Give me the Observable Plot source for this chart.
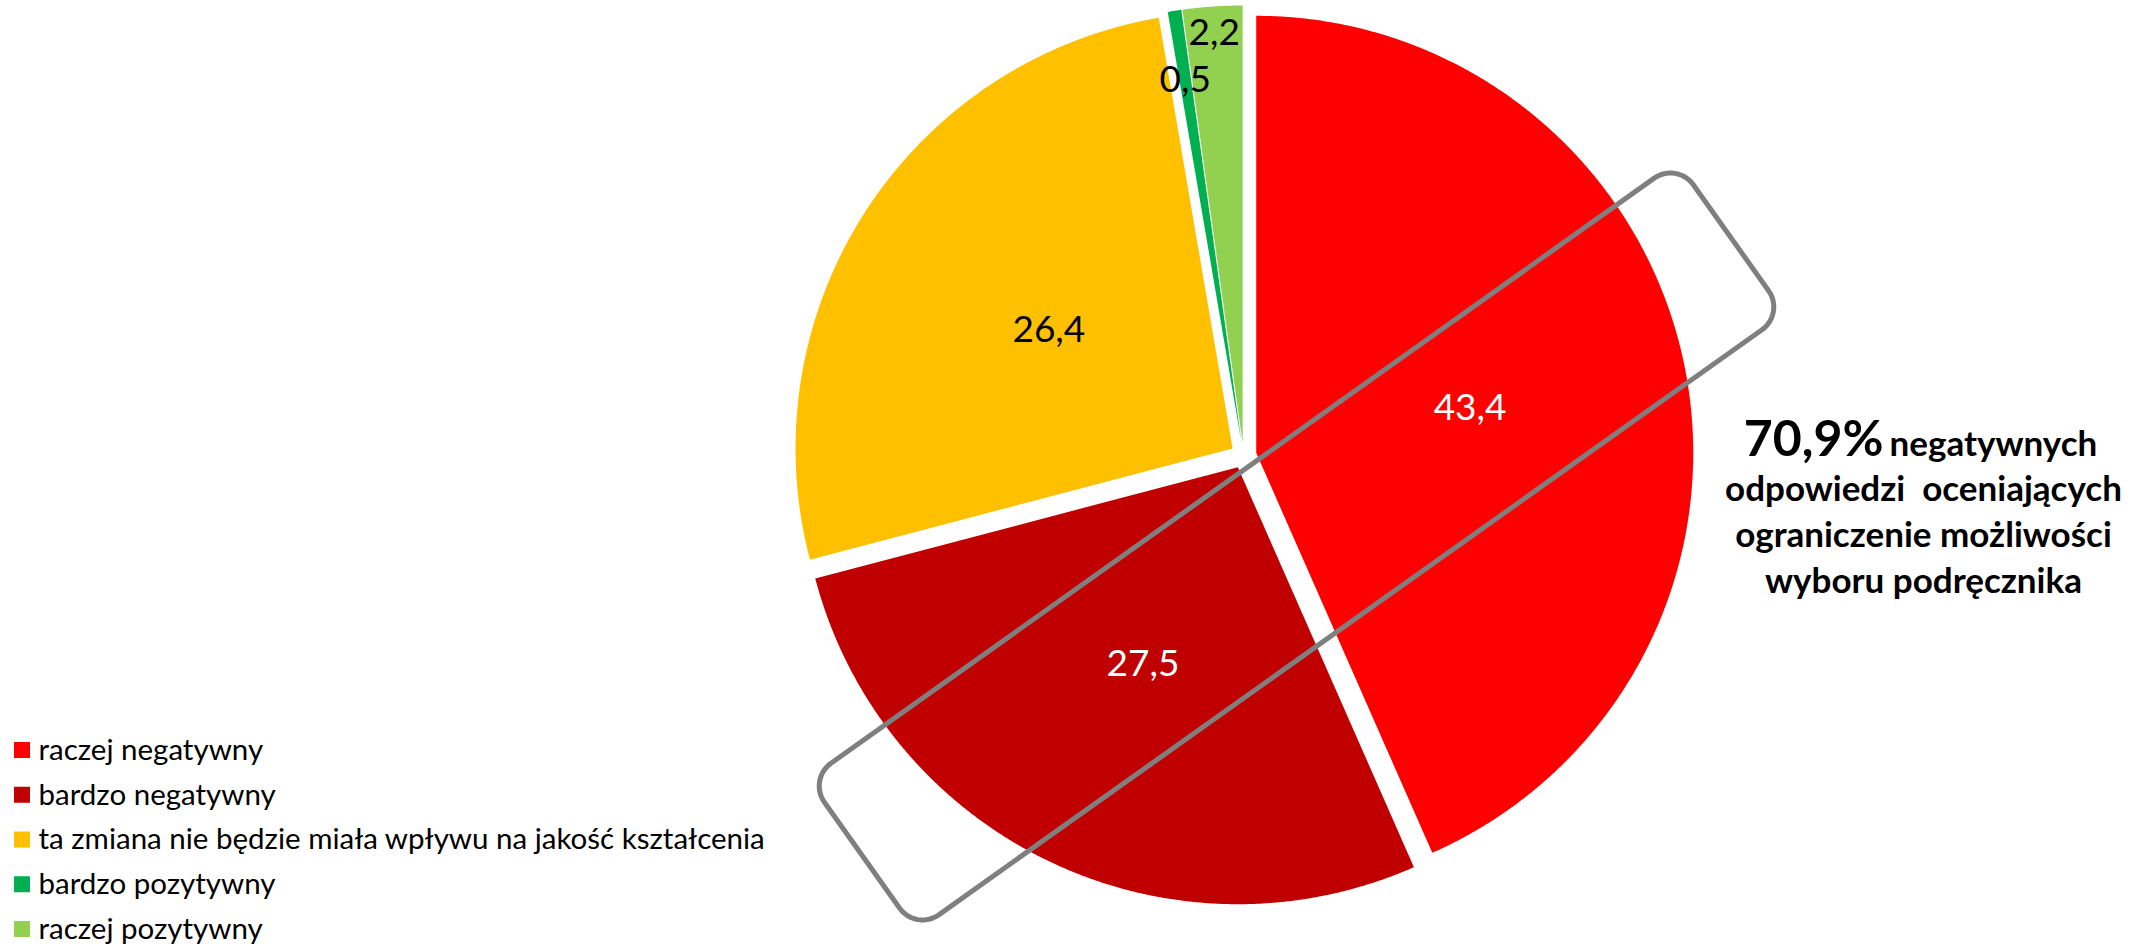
<!DOCTYPE html>
<html>
<head>
<meta charset="utf-8">
<script src="https://cdn.jsdelivr.net/npm/d3@7"></script>
<script src="https://cdn.jsdelivr.net/npm/@observablehq/plot@0.6"></script>
<style>
  html, body { margin: 0; padding: 0; background: #fff; }
  svg { display: block; }
</style>
</head>
<body>
<div id="chart"></div>
<script>
// ---- data ----
const categories = [
  "raczej negatywny",
  "bardzo negatywny",
  "ta zmiana nie będzie miała wpływu na jakość kształcenia",
  "bardzo pozytywny",
  "raczej pozytywny"
];
const values = [43.4, 27.5, 26.4, 0.5, 2.2];
const colors = ["#FF0000", "#C00000", "#FFC000", "#00B050", "#92D050"];
const annotationValue = "70,9%";
const annotationLines = ["negatywnych", "odpowiedzi  oceniających", "ograniczenie możliwości", "wyboru podręcznika"];

// ---- layout ----
const W = 2143, H = 946;
const cx = 1243, cy = 455, R = 437, explode = 13;
const fmt = v => v.toFixed(1).replace(".", ",");

const arcs = d3.pie().sort(null).value(d => d)(values);
const slicePts = [];
const labelPts = [];
arcs.forEach((a, i) => {
  const cat = categories[i];
  const mid = (a.startAngle + a.endAngle) / 2;
  const ox = cx + explode * Math.sin(mid), oy = cy - explode * Math.cos(mid);
  slicePts.push({cat, x: ox, y: oy});
  const n = Math.max(4, Math.ceil((a.endAngle - a.startAngle) / 0.004));
  for (let k = 0; k <= n; k++) {
    const t = a.startAngle + (a.endAngle - a.startAngle) * k / n;
    slicePts.push({cat, x: ox + R * Math.sin(t), y: oy - R * Math.cos(t)});
  }
  // big slices: label mid-radius; thin slices: label near the rim (best fit)
  const rf = values[i] >= 5 ? 0.5 : (values[i] < 1 ? 0.84 : 0.94);
  labelPts.push({
    text: fmt(values[i]),
    x: ox + rf * R * Math.sin(mid),
    y: oy - rf * R * Math.cos(mid),
    light: i < 2
  });
});

// rounded rectangle annotation frame
const rr = {x: 1296, y: 546, len: 1066, wid: 186, r: 28, angle: -35.4 * Math.PI / 180};
const rrPts = [];
{
  const hl = rr.len / 2 - rr.r, hw = rr.wid / 2 - rr.r;
  const corners = [[hl, -hw, -90], [hl, hw, 0], [-hl, hw, 90], [-hl, -hw, 180]];
  const ux = Math.cos(rr.angle), uy = Math.sin(rr.angle);
  const vx = -Math.sin(rr.angle), vy = Math.cos(rr.angle);
  for (const [sx, sy, a0] of corners) {
    for (let k = 0; k <= 12; k++) {
      const t = (a0 + 90 * k / 12) * Math.PI / 180;
      const s = sx + rr.r * Math.cos(t), u = sy + rr.r * Math.sin(t);
      rrPts.push({x: rr.x + s * ux + u * vx, y: rr.y + s * uy + u * vy});
    }
  }
}

// legend rows
const legendRows = categories.map((cat, i) => ({cat, y: 750 + i * 44.75}));

const chart = Plot.plot({
  width: W,
  height: H,
  margin: 0,
  x: {domain: [0, W], range: [0, W], axis: null},
  y: {domain: [0, H], range: [0, H], axis: null},
  color: {domain: categories, range: colors},
  style: {fontFamily: "Lato, 'Open Sans', sans-serif", background: "white", color: "black"},
  marks: [
    Plot.line(slicePts, {x: "x", y: "y", z: "cat", fill: "cat", stroke: "none", curve: "linear-closed"}),
    Plot.text(labelPts.filter(d => d.light), {x: "x", y: "y", text: "text", fill: "white", fontSize: 37, lineAnchor: "middle"}),
    Plot.text(labelPts.filter(d => !d.light), {x: "x", y: "y", text: "text", fill: "black", fontSize: 37, lineAnchor: "middle"}),
    Plot.line(rrPts, {x: "x", y: "y", stroke: "#7F7F7F", strokeWidth: 5, curve: "linear-closed"}),
    // annotation
    Plot.text([annotationValue], {x: 1883, y: 455, text: d => d, textAnchor: "end", lineAnchor: "bottom", fontSize: 50, fontWeight: "bold", fill: "black"}),
    Plot.text([annotationLines[0]], {x: 1889, y: 455, text: d => d, textAnchor: "start", lineAnchor: "bottom", fontSize: 35, fontWeight: "bold", fill: "black"}),
    Plot.text(annotationLines.slice(1).map((t, i) => ({t, y: 500 + i * 46})), {x: 1923, y: "y", text: "t", textAnchor: "middle", lineAnchor: "bottom", fontSize: 35, fontWeight: "bold", fill: "black"}),
    // legend
    Plot.rect(legendRows, {x1: 14, x2: 30, y1: d => d.y - 8, y2: d => d.y + 8, fill: "cat"}),
    Plot.text(legendRows, {x: 38, y: "y", text: "cat", textAnchor: "start", lineAnchor: "middle", fontSize: 29.5, fill: "black"})
  ]
});
document.getElementById("chart").append(chart);
</script>
</body>
</html>
